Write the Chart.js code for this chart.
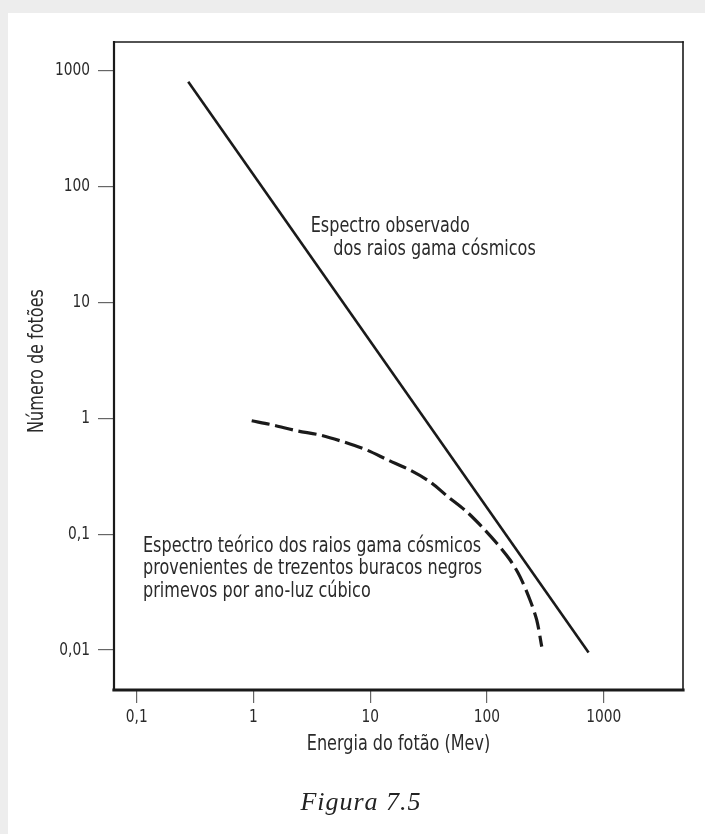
<!DOCTYPE html>
<html><head><meta charset="utf-8">
<script src="https://cdn.jsdelivr.net/npm/chart.js@4/dist/chart.umd.min.js"></script>
<style>
html,body{margin:0;padding:0;width:705px;height:834px;overflow:hidden;background:#ededed;}
#paper{position:absolute;left:8px;top:13px;right:0;bottom:0;background:#fff;}
#c{position:absolute;left:0;top:0;}
#fig{position:absolute;left:0;width:722px;top:787px;text-align:center;font:italic 26px "Liberation Serif","DejaVu Serif",serif;letter-spacing:1px;color:#222;}
</style></head><body>
<div id="paper"></div>
<canvas id="c" width="705" height="834"></canvas>
<div id="fig">Figura 7.5</div>
<script>
// ---- data ----
const xTicks = [0.1, 1, 10, 100, 1000];
const xTickLabels = ['0,1', '1', '10', '100', '1000'];
const yTicks = [0.01, 0.1, 1, 10, 100, 1000];
const yTickLabels = ['0,01', '0,1', '1', '10', '100', '1000'];

// observed spectrum (straight line in log-log)
const observedX = [0.276, 743];
const observedY = [800, 0.0095];

// theoretical spectrum (dashed curve)
const theoryX = [0.965, 1.47, 2.34, 3.72, 5.85, 9.33, 14.2, 21.9, 32.5, 46.4, 67.1, 90.3, 121, 158, 192, 234, 267, 295];
const theoryY = [0.951, 0.874, 0.780, 0.716, 0.627, 0.532, 0.436, 0.357, 0.283, 0.210, 0.156, 0.116, 0.0838, 0.0598, 0.0430, 0.0270, 0.0182, 0.0107];

const xTitle = 'Energia do fotão (Mev)';
const yTitle = 'Número de fotões';
const noteObserved = ['Espectro observado', 'dos raios gama cósmicos'];
const noteTheory = ['Espectro teórico dos raios gama cósmicos', 'provenientes de trezentos buracos negros', 'primevos por ano-luz cúbico'];

// ---- layout / style ----
const FONT = '"DejaVu Sans Condensed", "DejaVu Sans", sans-serif';
const INK = '#1a1a1a';
const TXT = '#2a2a2a';
const SQUEEZE = 0.85;   // emulate the narrow typeface of the original
const notes = [
  {lines: noteObserved, x: [3.09, 4.83], y: [40.5, 25.6]},
  {lines: noteTheory, x: [0.113, 0.113, 0.113], y: [0.0705, 0.0453, 0.0286]}
];

const toPts = (xs, ys) => xs.map((x, i) => ({x: x, y: ys[i]}));

function text(ctx, s, x, y, size, align, baseline, rot) {
  ctx.save();
  ctx.translate(x, y);
  if (rot) ctx.rotate(rot);
  ctx.scale(SQUEEZE, 1);
  ctx.font = size + 'px ' + FONT;
  ctx.textAlign = align;
  ctx.textBaseline = baseline;
  ctx.fillStyle = TXT;
  ctx.fillText(s, 0, 0);
  ctx.restore();
}

const framePlugin = {
  id: 'frame',
  afterDraw(chart) {
    const {ctx, chartArea: a, scales} = chart;
    ctx.save();
    ctx.strokeStyle = INK;
    ctx.lineCap = 'square';
    const seg = (w, x1, y1, x2, y2) => { ctx.lineWidth = w; ctx.beginPath(); ctx.moveTo(x1, y1); ctx.lineTo(x2, y2); ctx.stroke(); };
    seg(1.6, a.left, a.top, a.right, a.top);
    seg(1.6, a.right, a.top, a.right, a.bottom);
    seg(2.2, a.left, a.top, a.left, a.bottom);
    seg(3.2, a.left, a.bottom, a.right, a.bottom);
    ctx.restore();
    // tick labels
    xTicks.forEach((v, i) => text(ctx, xTickLabels[i], scales.x.getPixelForValue(v), a.bottom + 27, 18, 'center', 'middle'));
    yTicks.forEach((v, i) => text(ctx, yTickLabels[i], a.left - 24, scales.y.getPixelForValue(v), 18, 'right', 'middle'));
    // axis titles
    text(ctx, xTitle, (a.left + a.right) / 2, a.bottom + 55, 21, 'center', 'middle');
    text(ctx, yTitle, a.left - 76, (a.top + a.bottom) / 2 - 5, 21, 'center', 'middle', -Math.PI / 2);
    // annotations
    notes.forEach(n => n.lines.forEach((t, i) => {
      text(ctx, t, scales.x.getPixelForValue(n.x[i]), scales.y.getPixelForValue(n.y[i]), 21, 'left', 'alphabetic');
    }));
  }
};

new Chart(document.getElementById('c'), {
  type: 'scatter',
  data: {
    datasets: [
      {label: 'Espectro observado', data: toPts(observedX, observedY), showLine: true, borderColor: INK, borderWidth: 2.6, pointRadius: 0, tension: 0},
      {label: 'Espectro teórico', data: toPts(theoryX, theoryY), showLine: true, borderColor: INK, borderWidth: 3.2, borderDash: [18, 6], pointRadius: 0, tension: 0.3}
    ]
  },
  options: {
    responsive: false,
    animation: false,
    layout: {padding: {left: 0, top: 42, right: 22, bottom: 0}},
    plugins: {legend: {display: false}, tooltip: {enabled: false}},
    scales: {
      x: {
        type: 'logarithmic', min: 0.0638, max: 4786,
        afterBuildTicks: s => { s.ticks = xTicks.map(v => ({value: v})); },
        afterFit: s => { s.height = 144; },
        ticks: {display: false, autoSkip: false},
        grid: {drawOnChartArea: false, drawTicks: true, tickLength: 13, color: '#666', lineWidth: 1.2},
        border: {display: false},
        title: {display: false, text: xTitle}
      },
      y: {
        type: 'logarithmic', min: 0.00452, max: 1762,
        afterBuildTicks: s => { s.ticks = yTicks.map(v => ({value: v})); },
        afterFit: s => { s.width = 114; },
        ticks: {display: false, autoSkip: false},
        grid: {drawOnChartArea: false, drawTicks: true, tickLength: 16, color: '#666', lineWidth: 1.2},
        border: {display: false},
        title: {display: false, text: yTitle}
      }
    }
  },
  plugins: [framePlugin]
});
</script>
</body></html>
